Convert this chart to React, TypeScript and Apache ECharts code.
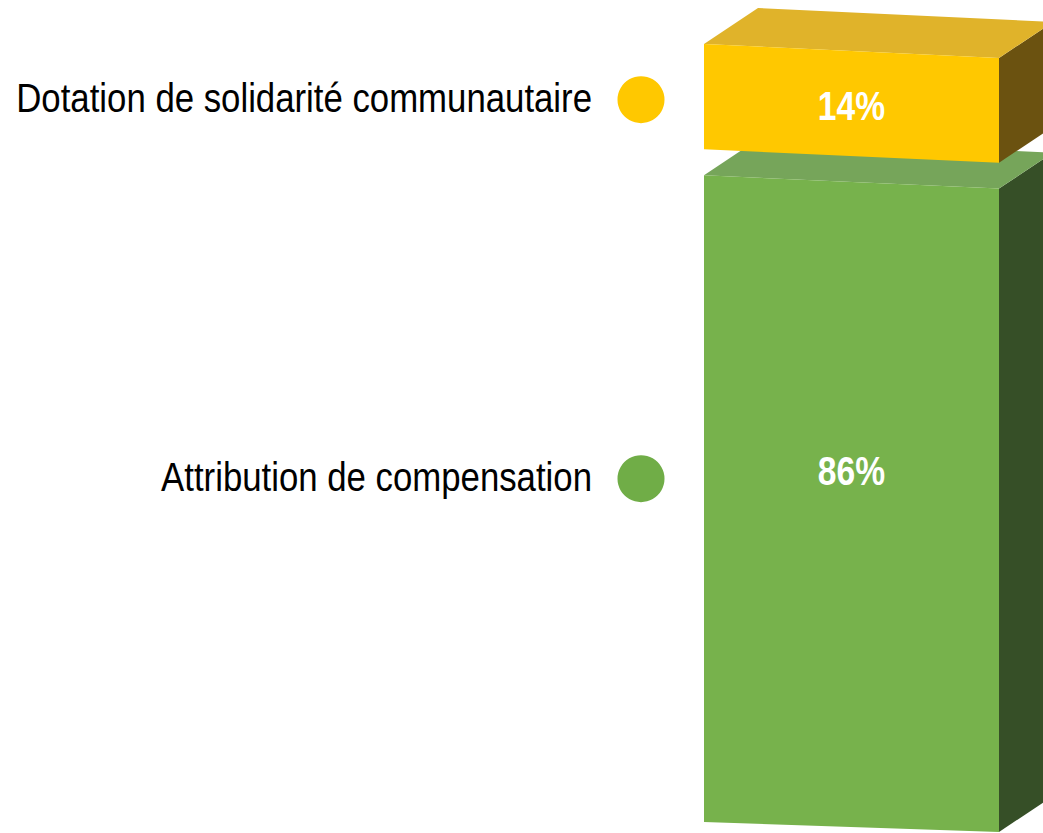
import React, { useEffect, useRef } from "react";
import * as echarts from "echarts";

const categories = ["Attribution de compensation", "Dotation de solidarité communautaire"];
const shares = [86, 14];
const valueLabels = ["86%", "14%"];
const frontColors = ["#77B24C", "#FFC800"];
const topColors = ["#76A55A", "#E0B32A"];
const sideColors = ["#364F27", "#6B5210"];
const legendColors = ["#70AD47", "#FFC800"];

const FONT = "'Liberation Sans', Arial, sans-serif";
const NARROW = 0.82;

export default function App() {
  const ref = useRef<HTMLDivElement>(null);
  useEffect(() => {
    if (!ref.current) return;
    const chart = echarts.init(ref.current, null, { renderer: "svg" });
    let acc = 0;
    const data = shares.map((v, i) => {
      const s = acc;
      acc += v;
      return [0, s, acc, i];
    });
    const GAP = 26;
    const DX = 54;
    const DY = 36;
    const labelShift = [-34, 2];
    const legendShift = [-22, 1];
    const slant = (y: number) => 14 - (4 * (y - 44)) / 778;
    chart.setOption({
      animation: false,
      backgroundColor: "#ffffff",
      grid: { left: 704, right: 44, top: 70, bottom: 11 },
      xAxis: { type: "category", data: ["x"], show: false },
      yAxis: { type: "value", min: 0, max: 100, show: false },
      series: [
        {
          type: "custom",
          data,
          renderItem: (params: any, api: any) => {
            const idx = api.value(3);
            const pB = api.coord([0, api.value(1)]);
            const pT = api.coord([0, api.value(2)]);
            const w = api.size([1, 0])[0];
            const xL = pB[0] - w / 2;
            const xR = xL + w;
            const yB = pB[1] - idx * GAP;
            const yT = pT[1] - idx * GAP;
            const sT = slant(yT);
            const sB = slant(yB);
            const midY = (yT + yB) / 2 + (sT + sB) / 4;
            const legY = (yT + yB) / 2 + legendShift[idx];
            return {
              type: "group",
              children: [
                {
                  type: "polygon",
                  shape: { points: [[xR, yT + sT], [xR + DX, yT + sT - DY], [xR + DX, yB + sB - DY], [xR, yB + sB]] },
                  style: { fill: sideColors[idx] },
                },
                {
                  type: "polygon",
                  shape: { points: [[xL, yT], [xL + DX, yT - DY], [xR + DX, yT + sT - DY], [xR, yT + sT]] },
                  style: { fill: topColors[idx] },
                },
                {
                  type: "polygon",
                  shape: { points: [[xL, yT], [xR, yT + sT], [xR, yB + sB], [xL, yB]] },
                  style: { fill: frontColors[idx] },
                },
                {
                  type: "group",
                  x: (xL + xR) / 2,
                  y: midY + labelShift[idx],
                  scaleX: NARROW,
                  children: [
                    {
                      type: "text",
                      x: 0,
                      y: 0,
                      style: {
                        text: valueLabels[idx],
                        fill: "#ffffff",
                        font: `bold 41px ${FONT}`,
                        align: "center",
                        verticalAlign: "middle",
                      },
                    },
                  ],
                },
                {
                  type: "circle",
                  shape: { cx: xL - 63, cy: legY + 2, r: 23.5 },
                  style: { fill: legendColors[idx] },
                },
                {
                  type: "group",
                  x: xL - 112,
                  y: legY,
                  scaleX: 0.848,
                  children: [
                    {
                      type: "text",
                      x: 0,
                      y: 0,
                      style: {
                        text: categories[idx],
                        fill: "#000000",
                        font: `41px ${FONT}`,
                        align: "right",
                        verticalAlign: "middle",
                      },
                    },
                  ],
                },
              ],
            };
          },
        },
      ],
    });
    return () => chart.dispose();
  }, []);
  return <div ref={ref} style={{ width: 1043, height: 833, position: "absolute", left: 0, top: 0 }} />;
}
